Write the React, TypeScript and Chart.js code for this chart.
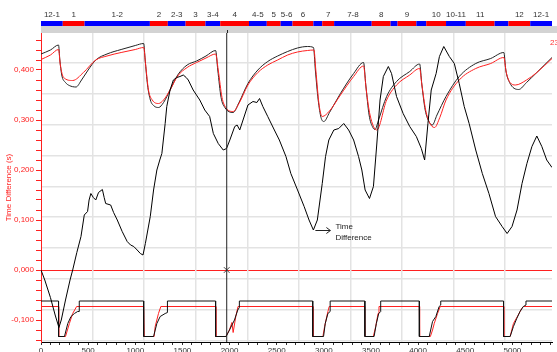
import React, { useEffect, useRef } from 'react';
import { Chart, registerables } from 'chart.js';
Chart.register(...registerables);

const X_MIN = 0;
const X_MAX = 5420;
const Y_MIN = -0.144;
const Y_MAX = 0.474;

// Time difference (noisy black curve)
const tdX = [0, 40, 100, 150, 190, 215, 260, 308, 336, 380, 424, 459, 494, 510, 529, 555, 581, 610, 651, 670, 686, 739, 770, 809, 861, 914, 950, 984, 1020, 1054, 1082, 1107, 1159, 1194, 1229, 1260, 1282, 1317, 1334, 1369, 1404, 1440, 1474, 1509, 1540, 1562, 1614, 1684, 1737, 1789, 1828, 1880, 1933, 1968, 2003, 2055, 2080, 2108, 2143, 2195, 2248, 2290, 2318, 2353, 2405, 2475, 2528, 2598, 2650, 2721, 2791, 2843, 2889, 2931, 2983, 3018, 3053, 3106, 3158, 3211, 3263, 3316, 3368, 3403, 3438, 3484, 3526, 3561, 3596, 3631, 3684, 3718, 3771, 3841, 3911, 3981, 4034, 4069, 4104, 4139, 4191, 4226, 4272, 4331, 4384, 4436, 4489, 4541, 4611, 4681, 4751, 4821, 4891, 4944, 4996, 5049, 5102, 5154, 5207, 5259, 5312, 5364, 5420];
const tdY = [0, -0.02, -0.055, -0.09, -0.115, -0.1, -0.06, -0.02, 0, 0.035, 0.067, 0.11, 0.117, 0.14, 0.153, 0.145, 0.14, 0.155, 0.161, 0.145, 0.133, 0.13, 0.115, 0.1, 0.077, 0.057, 0.05, 0.047, 0.04, 0.033, 0.03, 0.053, 0.107, 0.16, 0.2, 0.22, 0.233, 0.293, 0.327, 0.36, 0.38, 0.385, 0.387, 0.39, 0.385, 0.38, 0.36, 0.34, 0.32, 0.307, 0.273, 0.253, 0.24, 0.243, 0.26, 0.287, 0.29, 0.28, 0.3, 0.33, 0.337, 0.335, 0.343, 0.327, 0.307, 0.28, 0.26, 0.227, 0.193, 0.16, 0.127, 0.1, 0.08, 0.1, 0.173, 0.227, 0.26, 0.28, 0.283, 0.293, 0.28, 0.26, 0.227, 0.2, 0.16, 0.143, 0.167, 0.25, 0.34, 0.387, 0.407, 0.393, 0.347, 0.313, 0.287, 0.267, 0.243, 0.22, 0.293, 0.36, 0.393, 0.427, 0.447, 0.427, 0.413, 0.373, 0.327, 0.293, 0.24, 0.193, 0.153, 0.107, 0.087, 0.073, 0.087, 0.12, 0.173, 0.213, 0.247, 0.268, 0.247, 0.22, 0.205];

// Upper black curve
const ubX = [0, 100, 186, 200, 220, 260, 300, 371, 430, 500, 581, 700, 850, 1000, 1089, 1105, 1130, 1160, 1200, 1247, 1300, 1369, 1450, 1550, 1650, 1750, 1852, 1875, 1910, 1950, 2038, 2100, 2195, 2300, 2405, 2510, 2616, 2720, 2826, 2890, 2910, 2940, 2970, 3000, 3060, 3176, 3316, 3421, 3445, 3480, 3520, 3543, 3580, 3666, 3771, 3911, 4016, 4040, 4075, 4121, 4150, 4200, 4296, 4436, 4611, 4770, 4909, 4930, 4970, 5066, 5150, 5259, 5420];
const ubY = [0.432, 0.44, 0.45, 0.42, 0.39, 0.375, 0.369, 0.366, 0.38, 0.4, 0.42, 0.432, 0.441, 0.449, 0.453, 0.42, 0.37, 0.34, 0.328, 0.325, 0.335, 0.36, 0.39, 0.41, 0.418, 0.428, 0.439, 0.4, 0.345, 0.325, 0.315, 0.335, 0.373, 0.4, 0.417, 0.428, 0.437, 0.444, 0.447, 0.445, 0.4, 0.34, 0.305, 0.297, 0.315, 0.353, 0.393, 0.415, 0.37, 0.31, 0.285, 0.281, 0.3, 0.347, 0.377, 0.397, 0.412, 0.37, 0.32, 0.295, 0.29, 0.31, 0.347, 0.387, 0.413, 0.423, 0.435, 0.4, 0.375, 0.361, 0.375, 0.395, 0.425];

// Upper red curve
const urX = [0, 100, 186, 205, 240, 336, 450, 581, 700, 850, 1000, 1089, 1110, 1140, 1180, 1247, 1300, 1369, 1450, 1550, 1650, 1750, 1852, 1880, 1920, 1960, 2038, 2100, 2195, 2300, 2405, 2510, 2616, 2720, 2826, 2895, 2915, 2950, 2983, 3060, 3176, 3316, 3421, 3450, 3490, 3561, 3666, 3771, 3911, 4016, 4040, 4080, 4120, 4174, 4230, 4296, 4436, 4611, 4770, 4909, 4935, 4975, 5032, 5150, 5259, 5420];
const urY = [0.421, 0.43, 0.441, 0.41, 0.385, 0.379, 0.395, 0.42, 0.428, 0.435, 0.441, 0.445, 0.41, 0.36, 0.34, 0.333, 0.34, 0.36, 0.388, 0.405, 0.415, 0.424, 0.432, 0.4, 0.345, 0.325, 0.317, 0.333, 0.37, 0.395, 0.41, 0.42, 0.43, 0.436, 0.439, 0.44, 0.4, 0.33, 0.307, 0.318, 0.35, 0.387, 0.408, 0.36, 0.31, 0.28, 0.34, 0.37, 0.39, 0.403, 0.37, 0.32, 0.295, 0.285, 0.305, 0.34, 0.38, 0.403, 0.413, 0.425, 0.395, 0.375, 0.37, 0.38, 0.395, 0.423];

// Lower black step
const sbX = [0, 186, 186, 249, 284, 318, 354, 389, 406, 406, 1089, 1089, 1194, 1229, 1264, 1317, 1341, 1341, 1852, 1852, 1964, 1999, 2052, 2087, 2104, 2104, 2882, 2882, 2997, 3015, 3043, 3067, 3067, 3435, 3435, 3533, 3557, 3582, 3603, 3603, 4013, 4013, 4118, 4153, 4188, 4223, 4240, 4240, 4906, 4906, 4976, 5011, 5046, 5081, 5116, 5144, 5144, 5420];
const sbY = [-0.062, -0.062, -0.133, -0.133, -0.107, -0.093, -0.087, -0.083, -0.083, -0.062, -0.062, -0.133, -0.133, -0.107, -0.093, -0.087, -0.085, -0.062, -0.062, -0.133, -0.133, -0.12, -0.1, -0.08, -0.075, -0.062, -0.062, -0.133, -0.133, -0.107, -0.087, -0.083, -0.062, -0.062, -0.133, -0.133, -0.107, -0.087, -0.083, -0.062, -0.062, -0.133, -0.133, -0.103, -0.093, -0.073, -0.07, -0.062, -0.062, -0.133, -0.133, -0.113, -0.097, -0.083, -0.073, -0.07, -0.062, -0.062];

// Lower red step
const srX = [0, 186, 188, 260, 301, 336, 378, 1089, 1095, 1200, 1211, 1246, 1271, 1852, 1855, 1960, 1999, 2025, 2038, 2066, 2090, 2882, 2885, 2990, 3008, 3043, 3057, 3435, 3438, 3525, 3550, 3575, 3585, 4013, 4016, 4130, 4153, 4171, 4206, 4234, 4906, 4909, 4976, 5011, 5053, 5098, 5116, 5420];
const srY = [-0.073, -0.073, -0.133, -0.133, -0.107, -0.087, -0.073, -0.073, -0.133, -0.133, -0.113, -0.087, -0.073, -0.073, -0.133, -0.133, -0.12, -0.105, -0.125, -0.093, -0.073, -0.073, -0.133, -0.133, -0.113, -0.083, -0.073, -0.073, -0.133, -0.133, -0.113, -0.087, -0.073, -0.073, -0.133, -0.133, -0.12, -0.107, -0.087, -0.073, -0.073, -0.133, -0.133, -0.107, -0.093, -0.077, -0.073, -0.073];

// Top band segments
const segmentEdges = [0, 231, 462, 1155, 1345, 1534, 1744, 1901, 2206, 2395, 2542, 2668, 2889, 2983, 3109, 3508, 3708, 3782, 3981, 4086, 4296, 4506, 4811, 4958, 5189, 5420];
const segmentLabels = ['12-1', '1', '1-2', '2', '2-3', '3', '3-4', '4', '4-5', '5', '5-6', '6', '', '7', '7-8', '8', '', '9', '', '10', '10-11', '11', '', '12', '12-1'];
const segmentColors = ['#0000ff', '#ff0000'];

const cursorX = 1970;
const cursorMarkY = 0;
const annotX = 2889;
const annotY = 0.08;
const annotLines = ['Time', 'Difference'];
const cornerLabel = '23';
const xGridStep = 547;
const yGridBase = 0.044;
const yGridStep = 0.0617;

const pts = (xs: number[], ys: number[]) => xs.map((x, i) => ({ x, y: ys[i] }));

const FONT = '"Liberation Sans", Arial, sans-serif';

const overlayPlugin = {
  id: 'overlay',
  afterDraw(chart: any) {
    const { ctx, chartArea } = chart;
    const { left, top } = chartArea;
    const xs = chart.scales.x;
    const ys = chart.scales.y;
    ctx.save();
    ctx.fillStyle = '#d3d3d3';
    ctx.fillRect(left, top - 7, chart.width - left, 7);
    ctx.font = `8px ${FONT}`;
    ctx.textAlign = 'center';
    ctx.textBaseline = 'middle';
    for (let i = 0; i < segmentLabels.length; i++) {
      const x0 = xs.getPixelForValue(segmentEdges[i]);
      const x1 = xs.getPixelForValue(segmentEdges[i + 1]);
      ctx.fillStyle = segmentColors[i % 2];
      ctx.fillRect(x0, top - 12, x1 - x0, 5);
      if (segmentLabels[i]) {
        ctx.fillStyle = '#333';
        ctx.fillText(segmentLabels[i], (x0 + x1) / 2, top - 18);
      }
    }
    // cursor extends through the gray band
    const cx = Math.round(xs.getPixelForValue(cursorX)) + 0.5;
    ctx.strokeStyle = '#222';
    ctx.lineWidth = 1;
    ctx.beginPath();
    ctx.moveTo(cx, top - 3);
    ctx.lineTo(cx, top);
    ctx.stroke();
    // annotation
    const px = xs.getPixelForValue(annotX);
    const py = ys.getPixelForValue(annotY);
    ctx.beginPath();
    ctx.moveTo(px + 2, py + 0.5);
    ctx.lineTo(px + 17, py + 0.5);
    ctx.moveTo(px + 13, py - 2.5);
    ctx.lineTo(px + 17, py + 0.5);
    ctx.lineTo(px + 13, py + 3.5);
    ctx.stroke();
    ctx.fillStyle = '#222';
    ctx.textAlign = 'left';
    ctx.fillText(annotLines[0], px + 22, py - 3);
    ctx.fillText(annotLines[1], px + 22, py + 8);
    ctx.fillStyle = '#ff3030';
    ctx.fillText(cornerLabel, chart.width - 7, top + 10);
    ctx.restore();
  },
};

export default function App() {
  const ref = useRef<HTMLCanvasElement>(null);
  useEffect(() => {
    if (!ref.current) return;
    Chart.defaults.font.family = FONT;
    Chart.defaults.font.size = 8;
    const line = (data: any[], color: string, order: number, smooth = false) => ({
      data,
      borderColor: color,
      borderWidth: 1,
      pointRadius: 0,
      fill: false,
      tension: smooth ? 0.4 : 0,
      cubicInterpolationMode: smooth ? 'monotone' : 'default',
      order,
      xAxisID: 'x',
      yAxisID: 'y',
    });
    const chart = new Chart(ref.current, {
      type: 'line',
      data: {
        datasets: [
          line([{ x: cursorX, y: Y_MIN }, { x: cursorX, y: Y_MAX }], '#222', 0),
          {
            ...line([{ x: cursorX, y: cursorMarkY }], '#444', 0),
            pointRadius: 4,
            pointStyle: 'crossRot',
            pointBorderColor: '#444',
            pointBorderWidth: 1,
            showLine: false,
          },
          line(pts(tdX, tdY), '#000', 1),
          line(pts(sbX, sbY), '#111', 2),
          line(pts(srX, srY), '#ff2020', 3),
          line(pts(urX, urY), '#ff2020', 4, true),
          line(pts(ubX, ubY), '#222', 5, true),
        ] as any,
      },
      options: {
        animation: false,
        responsive: false,
        devicePixelRatio: 1,
        parsing: false as any,
        layout: { padding: { top: 33, left: 0, right: 0, bottom: 0 } },
        plugins: { legend: { display: false }, tooltip: { enabled: false } },
        scales: {
          x: {
            type: 'linear',
            position: 'bottom',
            min: X_MIN,
            max: X_MAX,
            afterFit: (s: any) => { s.height = 10; },
            ticks: {
              stepSize: 100,
              autoSkip: false,
              includeBounds: false,
              maxRotation: 0,
              minRotation: 0,
              color: '#333',
              padding: 1,
              font: { size: 8 },
              callback: (v: any) => (Number(v) % 500 === 0 ? String(v) : ''),
            },
            grid: { drawOnChartArea: false, drawTicks: true, tickLength: 3, tickColor: '#333', color: '#333' },
            border: { color: '#000' },
          },
          y: {
            type: 'linear',
            position: 'left',
            min: Y_MIN,
            max: Y_MAX,
            afterFit: (s: any) => { s.width = 41; },
            ticks: {
              stepSize: 0.02,
              autoSkip: false,
              includeBounds: false,
              color: '#ff2020',
              padding: 2,
              font: { size: 8 },
              callback: (v: any) => {
                const n = Number(v);
                return Math.abs(n * 10 - Math.round(n * 10)) < 1e-6 ? n.toFixed(3).replace('.', ',') : '';
              },
            },
            grid: {
              color: (c: any) => (c.tick && Math.abs(c.tick.value) < 1e-9 ? '#ff2020' : 'rgba(0,0,0,0)'),
              tickColor: '#ff2020',
              tickLength: 5,
              lineWidth: 1,
            },
            border: { color: '#ff2020' },
            title: { display: true, text: 'Time Difference (s)', color: '#ff2020', font: { size: 8 }, padding: { top: 4, bottom: 0 } },
          },
          gx: {
            type: 'linear',
            axis: 'x',
            position: 'top',
            min: X_MIN,
            max: X_MAX,
            afterBuildTicks: (s: any) => {
              const t = [];
              for (let v = xGridStep; v < X_MAX; v += xGridStep) t.push({ value: v });
              s.ticks = t;
            },
            afterFit: (s: any) => { s.height = 0; },
            ticks: { display: false },
            grid: { color: '#e3e3e3', lineWidth: 1.5, drawTicks: false },
            border: { display: false },
          },
          gy: {
            type: 'linear',
            axis: 'y',
            position: 'right',
            min: Y_MIN,
            max: Y_MAX,
            afterBuildTicks: (s: any) => {
              const t = [];
              for (let k = -3; k < 8; k++) {
                const v = yGridBase + k * yGridStep;
                if (v > Y_MIN && v < Y_MAX) t.push({ value: v });
              }
              s.ticks = t;
            },
            afterFit: (s: any) => { s.width = 0; },
            ticks: { display: false },
            grid: { color: '#e3e3e3', lineWidth: 1.5, drawTicks: false },
            border: { display: false },
          },
        } as any,
      },
      plugins: [overlayPlugin],
    });
    return () => chart.destroy();
  }, []);
  return (
    <div style={{ position: 'fixed', left: 0, top: 0, width: 557, height: 352, background: '#fff' }}>
      <canvas ref={ref} width={557} height={352} />
    </div>
  );
}
